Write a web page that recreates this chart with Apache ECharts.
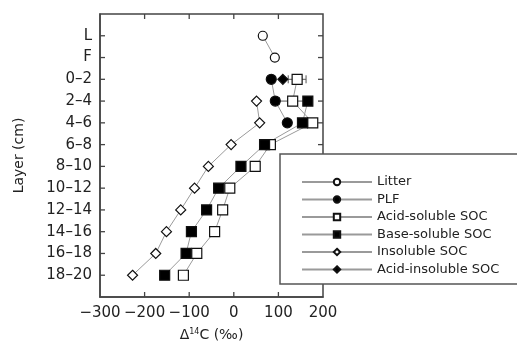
<!DOCTYPE html>
<html><head><meta charset="utf-8">
<script src="https://cdn.jsdelivr.net/npm/echarts@6/dist/echarts.min.js"></script>
<style>html,body{margin:0;padding:0;background:#fff}#c{width:517px;height:352px}</style>
</head><body><div id="c"></div>
<script>
const layers = ['L','F','0–2','2–4','4–6','6–8','8–10','10–12','12–14','14–16','16–18','18–20'];
const xTicks = [-300,-200,-100,0,100,200];
const litter        = [65, 92, null, null, null, null, null, null, null, null, null, null];
const plf           = [null, null, 84, 93, 120, null, null, null, null, null, null, null];
const acidSoluble   = [null, null, 142, 132, 177, 82, 48, -9, -25, -43, -83, -113];
const acidSolErr    = [null, null, 20, 30, 0, 10, 8, 4, 0, 0, 0, 0];
const baseSoluble   = [null, null, null, 166, 154, 69, 16, -34, -61, -95, -107, -155];
const insoluble     = [null, null, null, 51, 58, -6, -57, -88, -119, -151, -175, -227];
const acidInsoluble = [null, null, 110, null, null, null, null, null, null, null, null, null];

function pts(vals){ const o=[]; vals.forEach((v,i)=>{ if(v!==null) o.push([v,i]); }); return o; }

const FONT = 'DejaVu Sans';
const axisCol = '#444';
const lineCol = '#9a9a9a';
const X0 = xTicks[0], X1 = xTicks[xTicks.length-1];
const Y0 = -1, Y1 = layers.length;

function lineSeries(name, vals, symbol, fill, size){
  return {
    name, type:'line', data: pts(vals), symbol, symbolSize: size,
    lineStyle:{color: lineCol, width:1},
    itemStyle:{color: fill, borderColor:'#111', borderWidth:1.2},
    emphasis:{disabled:true}, z:3, animation:false
  };
}
const tickStyle = {stroke:axisCol, lineWidth:1.3};

const chart = echarts.init(document.getElementById('c'), null, {renderer:'canvas'});
chart.setOption({
  animation:false,
  grid:{left:100, right:194, top:14, bottom:55, containLabel:false, show:true, borderColor:axisCol, borderWidth:1.5, backgroundColor:'transparent'},
  xAxis:{
    type:'value', min:X0, max:X1, interval:100, position:'bottom',
    name:'{a|Δ}{s|14}{a|C (‰)}', nameLocation:'middle', nameGap:31,
    nameTextStyle:{rich:{a:{fontFamily:FONT,fontSize:14,color:'#222'},s:{fontFamily:FONT,fontSize:8,color:'#222',verticalAlign:'top',padding:[0,0,6,0]}}},
    axisLine:{show:true,onZero:false,lineStyle:{color:axisCol,width:1.5}}, axisTick:{show:false},
    axisLabel:{fontFamily:FONT,fontSize:15,color:'#222',margin:9,formatter:v=>String(v).replace('-','−')},
    splitLine:{show:false}
  },
  yAxis:{
    type:'value', inverse:true, min:Y0, max:Y1, interval:1, position:'left',
    name:'Layer (cm)', nameLocation:'middle', nameGap:74, nameRotate:90,
    nameTextStyle:{fontFamily:FONT,fontSize:14,color:'#222'},
    axisLine:{show:true,onZero:false,lineStyle:{color:axisCol,width:1.5}}, axisTick:{show:false},
    axisLabel:{fontFamily:FONT,fontSize:15,color:'#222',margin:8,
      formatter:v=>(v>=0&&v<layers.length)?layers[v]:''},
    splitLine:{show:false}
  },
  graphic:[{type:'rect', shape:{x:280,y:154,width:260,height:130}, style:{fill:'#fff',stroke:'#555',lineWidth:1.5}, z:50}],
  legend:{
    orient:'vertical', left:296, top:170, itemWidth:70, itemHeight:8, itemGap:3.5,
    textStyle:{fontFamily:FONT,fontSize:13,color:'#222',lineHeight:14}, z:60,
    data:['Litter','PLF','Acid-soluble SOC','Base-soluble SOC','Insoluble SOC','Acid-insoluble SOC']
  },
  series:[
    {
      name:'xticks', type:'custom', silent:true, z:4, clip:false,
      data: xTicks.slice(1,-1).map(v=>[v, Y0]),
      renderItem:(params, api)=>{
        const v=api.value(0);
        const t=api.coord([v,Y0]), b=api.coord([v,Y1]);
        return {type:'group',children:[
          {type:'line',shape:{x1:t[0],y1:t[1],x2:t[0],y2:t[1]+5},style:tickStyle},
          {type:'line',shape:{x1:b[0],y1:b[1],x2:b[0],y2:b[1]-5},style:tickStyle}
        ]};
      }
    },
    {
      name:'yticks', type:'custom', silent:true, z:4, clip:false,
      data: layers.map((c,i)=>[X0, i]),
      renderItem:(params, api)=>{
        const i=api.value(1);
        const l=api.coord([X0,i]), r=api.coord([X1,i]);
        return {type:'group',children:[
          {type:'line',shape:{x1:l[0],y1:l[1],x2:l[0]+5,y2:l[1]},style:tickStyle},
          {type:'line',shape:{x1:r[0],y1:r[1],x2:r[0]-5,y2:r[1]},style:tickStyle}
        ]};
      }
    },
    {
      name:'err', type:'custom', silent:true, z:2,
      data: acidSoluble.map((v,i)=>v===null?null:[v,i,acidSolErr[i]]).filter(d=>d&&d[2]>0),
      renderItem:(params, api)=>{
        const x=api.value(0), y=api.value(1), e=api.value(2);
        const a=api.coord([x-e,y]), b=api.coord([x+e,y]);
        const st={stroke:'#555',lineWidth:1};
        return {type:'group',children:[
          {type:'line',shape:{x1:a[0],y1:a[1],x2:b[0],y2:b[1]},style:st},
          {type:'line',shape:{x1:a[0],y1:a[1]-4,x2:a[0],y2:a[1]+4},style:st},
          {type:'line',shape:{x1:b[0],y1:b[1]-4,x2:b[0],y2:b[1]+4},style:st}
        ]};
      }
    },
    lineSeries('Litter', litter, 'circle', '#fff', 9),
    lineSeries('PLF', plf, 'circle', '#000', 10),
    lineSeries('Acid-soluble SOC', acidSoluble, 'rect', '#fff', 10),
    lineSeries('Base-soluble SOC', baseSoluble, 'rect', '#000', 10),
    lineSeries('Insoluble SOC', insoluble, 'diamond', '#fff', 10),
    lineSeries('Acid-insoluble SOC', acidInsoluble, 'diamond', '#000', 10)
  ]
});
</script></body></html>
